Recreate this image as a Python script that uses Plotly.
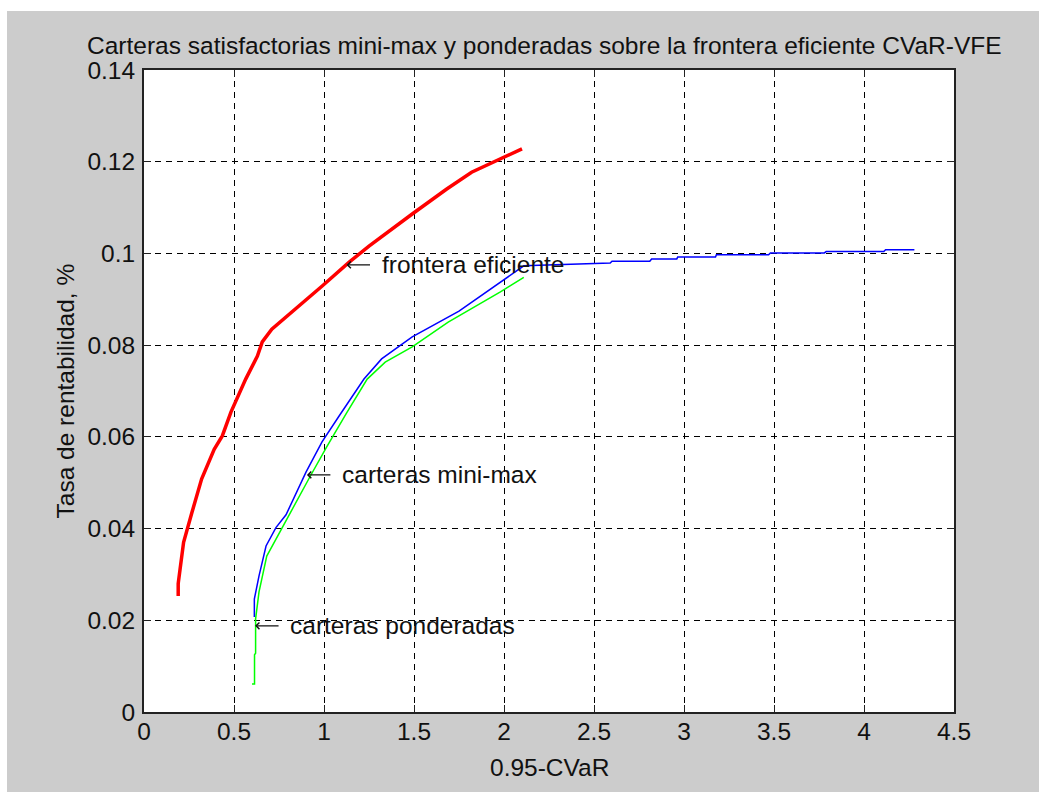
import plotly.graph_objects as go

# Frontera eficiente (red)
red_x = [0.19, 0.19, 0.20, 0.21, 0.22, 0.267, 0.32, 0.39, 0.435, 0.483, 0.53, 0.565, 0.63, 0.657,
         0.71, 0.842, 0.99, 1.14, 1.25, 1.49, 1.68, 1.82, 1.98, 2.10]
red_y = [0.0253, 0.028, 0.031, 0.034, 0.037, 0.0436, 0.0508, 0.0573, 0.0602, 0.0654, 0.0698, 0.0726,
         0.0776, 0.0807, 0.0835, 0.0879, 0.0929, 0.0981, 0.1016, 0.1086, 0.114, 0.1177, 0.1206, 0.1228]

# Carteras mini-max (blue)
blue_x = [0.613, 0.613, 0.639, 0.678, 0.733, 0.789, 0.90, 0.989, 1.083, 1.156, 1.222, 1.32, 1.49,
          1.75, 1.98, 2.11, 2.59, 2.60, 2.81, 2.82, 2.96, 2.965, 3.175, 3.18, 3.47, 3.48, 3.78, 3.79,
          4.11, 4.12, 4.28]
blue_y = [0.0207, 0.0246, 0.0297, 0.0362, 0.0402, 0.0430, 0.0523, 0.0589, 0.0645, 0.0689, 0.0726,
          0.077, 0.0818, 0.0874, 0.0938, 0.0973, 0.0979, 0.0983, 0.0983, 0.0988, 0.0988, 0.0992,
          0.0992, 0.0997, 0.0997, 0.1001, 0.1001, 0.1004, 0.1004, 0.1008, 0.1008]

# Carteras ponderadas (green)
green_x = [0.60, 0.614, 0.614, 0.62, 0.62, 0.639, 0.682, 0.757, 0.83, 0.922, 1.015, 1.125, 1.24,
           1.34, 1.49, 1.69, 1.98, 2.11]
green_y = [0.0061, 0.0061, 0.0125, 0.0128, 0.0203, 0.0262, 0.034, 0.0395, 0.0446, 0.0513, 0.0578,
           0.0652, 0.0726, 0.0763, 0.0796, 0.085, 0.0916, 0.0948]

x_ticks = [0, 0.5, 1, 1.5, 2, 2.5, 3, 3.5, 4, 4.5]
x_tick_labels = ["0", "0.5", "1", "1.5", "2", "2.5", "3", "3.5", "4", "4.5"]
y_ticks = [0, 0.02, 0.04, 0.06, 0.08, 0.1, 0.12, 0.14]
y_tick_labels = ["0", "0.02", "0.04", "0.06", "0.08", "0.1", "0.12", "0.14"]

labels = ["frontera eficiente", "carteras mini-max", "carteras ponderadas"]
label_x = [1.125, 0.905, 0.617]
label_y = [0.0975, 0.0517, 0.0188]

FONT = "Liberation Sans, Arial, sans-serif"
FS = 24.5
BG = "#cccccc"
TXT = "#111111"

fig = go.Figure()
fig.add_trace(go.Scatter(x=red_x, y=red_y, mode="lines", line=dict(color="#ff0000", width=3.5),
                         showlegend=False, hoverinfo="skip"))
fig.add_trace(go.Scatter(x=blue_x, y=blue_y, mode="lines", line=dict(color="#0000ff", width=1.5),
                         showlegend=False, hoverinfo="skip"))
fig.add_trace(go.Scatter(x=green_x, y=green_y, mode="lines", line=dict(color="#00ff00", width=1.5),
                         showlegend=False, hoverinfo="skip"))

annotations = []
for t, x, y in zip(labels, label_x, label_y):
    # leftwards arrow (tip at the point)
    annotations.append(dict(x=x, y=y, xref="x", yref="y", text="", showarrow=True,
                            ax=25, ay=0, axref="pixel", ayref="pixel", arrowhead=4, arrowsize=1,
                            arrowwidth=1.3, arrowcolor=TXT, standoff=0, startstandoff=0))
    annotations.append(dict(x=x, y=y, xref="x", yref="y", text=t, showarrow=False, xshift=33,
                            xanchor="left", yanchor="middle", font=dict(family=FONT, size=FS, color=TXT)))
annotations.append(dict(x=0.5, y=1, xref="paper", yref="paper", xshift=-5, yshift=25,
                        text="Carteras satisfactorias mini-max y ponderadas sobre la frontera eficiente CVaR-VFE",
                        showarrow=False, xanchor="center", yanchor="middle",
                        font=dict(family=FONT, size=FS, color=TXT)))
annotations.append(dict(x=0.5, y=0, xref="paper", yref="paper", yshift=-55, text="0.95-CVaR",
                        showarrow=False, xanchor="center", yanchor="middle",
                        font=dict(family=FONT, size=FS, color=TXT)))
annotations.append(dict(x=0, y=0.5, xref="paper", yref="paper", xshift=-79.5,
                        text="Tasa de rentabilidad, %", textangle=-90,
                        showarrow=False, xanchor="center", yanchor="middle",
                        font=dict(family=FONT, size=FS, color=TXT)))

axis_common = dict(showline=True, linecolor="#222", linewidth=2, mirror="ticks",
                   ticks="inside", ticklen=7, tickcolor="#222", tickwidth=1.2,
                   showgrid=True, gridcolor="#000", gridwidth=1.2, griddash="6px,5px",
                   zeroline=False, tickfont=dict(family=FONT, size=FS, color=TXT))

fig.update_layout(
    width=1039, height=792,
    margin=dict(l=144, r=85, t=70, b=80),
    paper_bgcolor=BG, plot_bgcolor="#ffffff",
    xaxis=dict(range=[0, 4.5], tickvals=x_ticks, ticktext=x_tick_labels, ticklabelstandoff=-3, **axis_common),
    yaxis=dict(range=[0, 0.14], tickvals=y_ticks, ticktext=y_tick_labels, ticklabelstandoff=2, **axis_common),
    annotations=annotations,
    shapes=[
        dict(type="rect", xref="paper", yref="paper", x0=-0.3, x1=(7 - 144) / 810, y0=-0.2, y1=1.3,
             fillcolor="#ffffff", line=dict(width=0), layer="below"),
        dict(type="rect", xref="paper", yref="paper", x0=-0.3, x1=1.3, y0=(712 - 11) / 642, y1=1.3,
             fillcolor="#ffffff", line=dict(width=0), layer="below"),
    ],
)

fig.write_html("out.html")
